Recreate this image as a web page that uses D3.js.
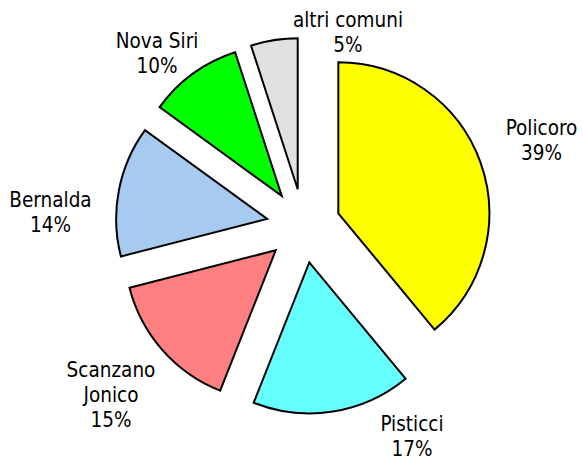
<!DOCTYPE html>
<html>
<head>
<meta charset="utf-8">
<script src="https://cdn.jsdelivr.net/npm/d3@7"></script>
<style>
  html, body { margin: 0; padding: 0; background: #fff; }
  svg { display: block; }
  .lbl { font-family: "DejaVu Sans Condensed", "DejaVu Sans", sans-serif; font-stretch: condensed; font-size: 20.5px; fill: #000; }
</style>
</head>
<body>
<svg id="chart" width="583" height="461"></svg>
<script>
// Share of each municipality (percent), clockwise from 12 o'clock
const categories = ["Policoro", "Pisticci", "Scanzano Jonico", "Bernalda", "Nova Siri", "altri comuni"];
const values = [39, 17, 15, 14, 10, 5];
// Label text, one entry per line
const labelLines = [
  ["Policoro", "39%"],
  ["Pisticci", "17%"],
  ["Scanzano", "Jonico", "15%"],
  ["Bernalda", "14%"],
  ["Nova Siri", "10%"],
  ["altri comuni", "5%"]
];
const colors = ["#FFFF00", "#66FFFF", "#FF8080", "#A6CAF0", "#00FF00", "#E0E0E0"];

// Layout
const W = 583, H = 461;
const cx = 303.5, cy = 225.8;
const radius = 151;
const explode = 37;
const lineH = 25;
// label block position: centre x and first baseline y
const labelAt = [
  [541.5, 135], [412, 431], [111, 377], [50.5, 207], [157, 48], [348, 27]
];

const svg = d3.select("#chart");
const g = svg.append("g").attr("transform", `translate(${cx},${cy})`);

const pie = d3.pie().sort(null).value(d => d.value);
const arc = d3.arc().innerRadius(0).outerRadius(radius);

const data = categories.map((c, i) => ({ name: c, value: values[i], color: colors[i] }));
const arcs = pie(data);

// Slices, each pulled out along its bisector
g.selectAll("path.slice")
  .data(arcs)
  .join("path")
  .attr("class", "slice")
  .attr("d", arc)
  .attr("fill", d => d.data.color)
  .attr("stroke", "#000")
  .attr("stroke-width", 2)
  .attr("stroke-linejoin", "miter")
  .attr("transform", d => {
    const a = (d.startAngle + d.endAngle) / 2;
    return `translate(${Math.sin(a) * explode},${-Math.cos(a) * explode})`;
  });

const labels = svg.selectAll("text.lbl")
  .data(arcs)
  .join("text")
  .attr("class", "lbl")
  .attr("text-anchor", "middle");

labels.each(function(d, i) {
  const t = d3.select(this);
  const [lx, ly] = labelAt[i];
  labelLines[i].forEach((s, k) => {
    t.append("tspan").attr("x", lx).attr("y", ly + k * lineH).text(s);
  });
});
</script>
</body>
</html>
